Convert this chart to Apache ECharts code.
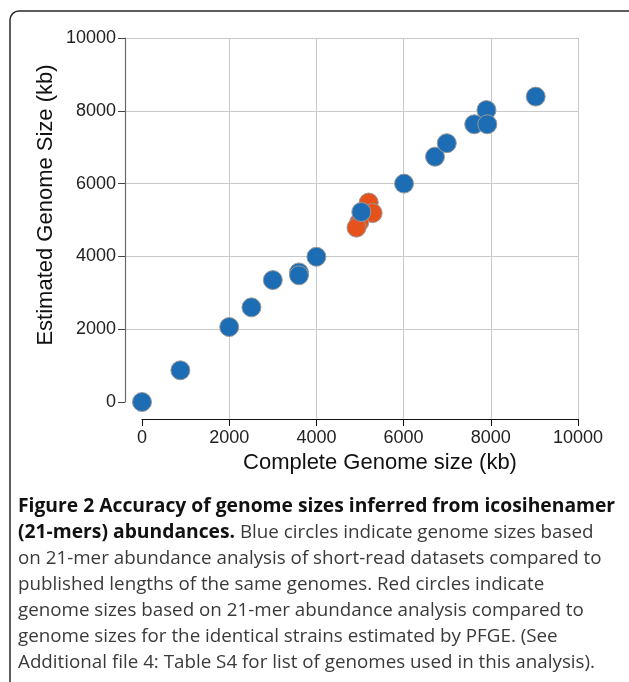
<!DOCTYPE html>
<html>
<head>
<meta charset="utf-8">
<script src="https://cdn.jsdelivr.net/npm/echarts@6/dist/echarts.min.js"></script>
<style>
html,body{margin:0;padding:0;background:#fff;}
#chart{width:629px;height:682px;}
</style>
</head>
<body>
<div id="chart"></div>
<script>
// Data (kb)
var blueX = [0, 880, 2000, 2510, 3000, 3600, 3600, 4000, 5030, 6010, 6720, 6990, 7900, 7620, 7920, 9030];
var blueY = [0, 870, 2060, 2600, 3350, 3560, 3480, 3990, 5220, 6000, 6740, 7110, 8020, 7630, 7630, 8390];
var redX = [5200, 5290, 4980, 4920];
var redY = [5480, 5190, 4930, 4790];
var tickValues = [0, 2000, 4000, 6000, 8000, 10000];
var xTitle = 'Complete Genome size (kb)';
var yTitle = 'Estimated Genome Size (kb)';
var captionLines = [
  '{b|Figure 2 Accuracy of genome sizes inferred from icosihenamer}',
  '{b|(21-mers) abundances.} Blue circles indicate genome sizes based',
  'on 21-mer abundance analysis of short-read datasets compared to',
  'published lengths of the same genomes. Red circles indicate',
  'genome sizes based on 21-mer abundance analysis compared to',
  'genome sizes for the identical strains estimated by PFGE. (See',
  'Additional file 4: Table S4 for list of genomes used in this analysis).'
];

function zip(xs, ys) { return xs.map(function (x, i) { return [x, ys[i]]; }); }
function plain(v) { return String(v); }

var gridColor = '#c9c9c9';
var axMin = tickValues[0], axMax = tickValues[tickValues.length - 1], axInt = tickValues[1] - tickValues[0];

var chart = echarts.init(document.getElementById('chart'), null, { renderer: 'canvas' });
chart.setOption({
  animation: false,
  backgroundColor: '#fff',
  grid: [
    { left: 142, right: 51, top: 38, bottom: 280, containLabel: false },
    { left: 142, right: 51, top: 38, bottom: 263, containLabel: false },
    { left: 125, right: 51, top: 38, bottom: 280, containLabel: false }
  ],
  xAxis: [
    { gridIndex: 0, type: 'value', min: axMin, max: axMax, interval: axInt, offset: 17,
      axisLine: { show: true, onZero: false, lineStyle: { color: '#111', width: 1.2 } },
      axisTick: { show: true, inside: false, length: 7, lineStyle: { color: '#111' } },
      axisLabel: { margin: 10, formatter: plain, fontFamily: 'Liberation Sans', fontSize: 18, color: '#222' },
      splitLine: { show: false } },
    { gridIndex: 1, type: 'value', min: axMin, max: axMax, interval: axInt,
      axisLine: { show: false }, axisTick: { show: false }, axisLabel: { show: false },
      splitLine: { show: true, showMinLine: false, lineStyle: { color: gridColor, width: 1 } } },
    { gridIndex: 2, type: 'value', show: false, min: 0, max: 1 }
  ],
  yAxis: [
    { gridIndex: 0, type: 'value', min: axMin, max: axMax, interval: axInt, offset: 17,
      axisLine: { show: true, onZero: false, lineStyle: { color: '#6a6a6a', width: 1.2 } },
      axisTick: { show: true, inside: false, length: 7, lineStyle: { color: '#444' } },
      axisLabel: { margin: 9, formatter: plain, fontFamily: 'Liberation Sans', fontSize: 18, color: '#222' },
      splitLine: { show: false } },
    { gridIndex: 1, type: 'value', show: false, min: 0, max: 1 },
    { gridIndex: 2, type: 'value', min: axMin, max: axMax, interval: axInt,
      axisLine: { show: false }, axisTick: { show: false }, axisLabel: { show: false },
      splitLine: { show: true, showMinLine: false, lineStyle: { color: gridColor, width: 1 } } }
  ],
  series: [
    { type: 'scatter', xAxisIndex: 0, yAxisIndex: 0, data: zip(redX, redY), symbolSize: 19,
      itemStyle: { color: '#e6521b', borderColor: '#999', borderWidth: 1, opacity: 1 }, z: 3 },
    { type: 'scatter', xAxisIndex: 0, yAxisIndex: 0, data: zip(blueX, blueY), symbolSize: 19,
      itemStyle: { color: '#1c6db4', borderColor: '#999', borderWidth: 1, opacity: 1 }, z: 4 }
  ],
  graphic: [
    { type: 'rect', shape: { x: 10, y: 11, width: 630, height: 680, r: 9 },
      style: { fill: null, stroke: '#2a2a2a', lineWidth: 1.5 }, silent: true },
    { type: 'text', x: 380, y: 463,
      style: { text: xTitle, fontFamily: 'Liberation Sans', fontSize: 22, fill: '#111',
               align: 'center', verticalAlign: 'middle' } },
    { type: 'text', x: 46, y: 205, rotation: Math.PI / 2,
      style: { text: yTitle, fontFamily: 'Liberation Sans', fontSize: 22, fill: '#111',
               align: 'center', verticalAlign: 'middle' } },
    { type: 'text', x: 18, y: 494,
      style: { text: captionLines.join('\n'), fontFamily: 'Open Sans', fontSize: 18.8,
               lineHeight: 25.9, fill: '#3a3a3a', align: 'left', verticalAlign: 'top',
               rich: { b: { fontFamily: 'Open Sans', fontSize: 19.3, fontWeight: 'bold',
                            lineHeight: 25.9, fill: '#111' } } } }
  ]
});
</script>
</body>
</html>
